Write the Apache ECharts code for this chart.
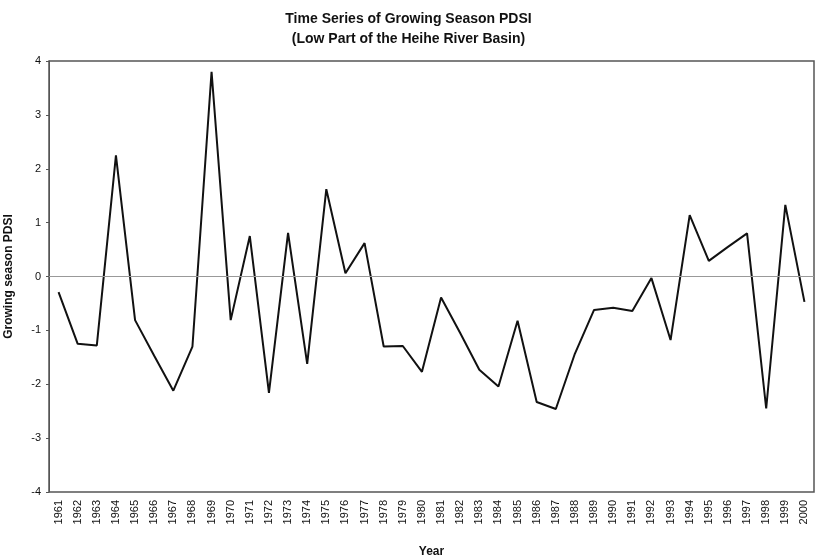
<!DOCTYPE html>
<html><head><meta charset="utf-8">
<script src="https://cdn.jsdelivr.net/npm/echarts@6/dist/echarts.min.js"></script>
<style>html,body{margin:0;padding:0;background:#fff}#c{width:817px;height:560px}</style>
</head><body><div id="c"></div>
<script>
const years = ['1961','1962','1963','1964','1965','1966','1967','1968','1969','1970',
'1971','1972','1973','1974','1975','1976','1977','1978','1979','1980',
'1981','1982','1983','1984','1985','1986','1987','1988','1989','1990',
'1991','1992','1993','1994','1995','1996','1997','1998','1999','2000'];
const pdsi = [-0.29,-1.25,-1.28,2.25,-0.81,-1.47,-2.12,-1.30,3.80,-0.81,
0.75,-2.16,0.81,-1.62,1.62,0.06,0.62,-1.30,-1.29,-1.77,
-0.39,-1.05,-1.73,-2.04,-0.82,-2.33,-2.46,-1.43,-0.62,-0.58,
-0.64,-0.03,-1.18,1.14,0.29,0.55,0.80,-2.45,1.33,-0.47];
const yTicks = {min:-4, max:4, interval:1};
const titleText = 'Time Series of Growing Season PDSI\n(Low Part of the Heihe River Basin)';

const chart = echarts.init(document.getElementById('c'));
const font = 'Liberation Sans, Arial, sans-serif';
chart.setOption({
  animation:false,
  backgroundColor:'#fff',
  title:{text:titleText,left:'center',top:4,
    textStyle:{fontFamily:font,fontSize:14,fontWeight:'bold',color:'#111',lineHeight:20}},
  grid:{left:49,right:3,top:61,bottom:68,containLabel:false,outerBoundsMode:'none',
    show:true,borderColor:'#555',borderWidth:1.5},
  xAxis:{type:'category',data:years,boundaryGap:true,
    name:'Year',nameLocation:'middle',nameGap:54,
    nameTextStyle:{fontFamily:font,fontSize:12,fontWeight:'bold',color:'#111'},
    axisLine:{show:false},axisTick:{show:false},
    axisLabel:{rotate:90,interval:0,fontFamily:font,fontSize:11,color:'#111',margin:8}},
  yAxis:{type:'value',min:yTicks.min,max:yTicks.max,interval:yTicks.interval,
    name:'Growing season PDSI',nameLocation:'middle',nameGap:34,
    nameTextStyle:{fontFamily:font,fontSize:12,fontWeight:'bold',color:'#111'},
    axisLine:{show:true,lineStyle:{color:'#555'}},
    axisTick:{show:true,length:3,lineStyle:{color:'#555'}},
    splitLine:{show:false},
    axisLabel:{fontFamily:font,fontSize:11,color:'#111',margin:8}},
  series:[{type:'line',data:pdsi,symbol:'none',
    lineStyle:{color:'#111',width:2},
    markLine:{silent:true,symbol:'none',label:{show:false},
      lineStyle:{color:'#999',width:1.2,type:'solid'},data:[{yAxis:0}]}}]
});
</script></body></html>
